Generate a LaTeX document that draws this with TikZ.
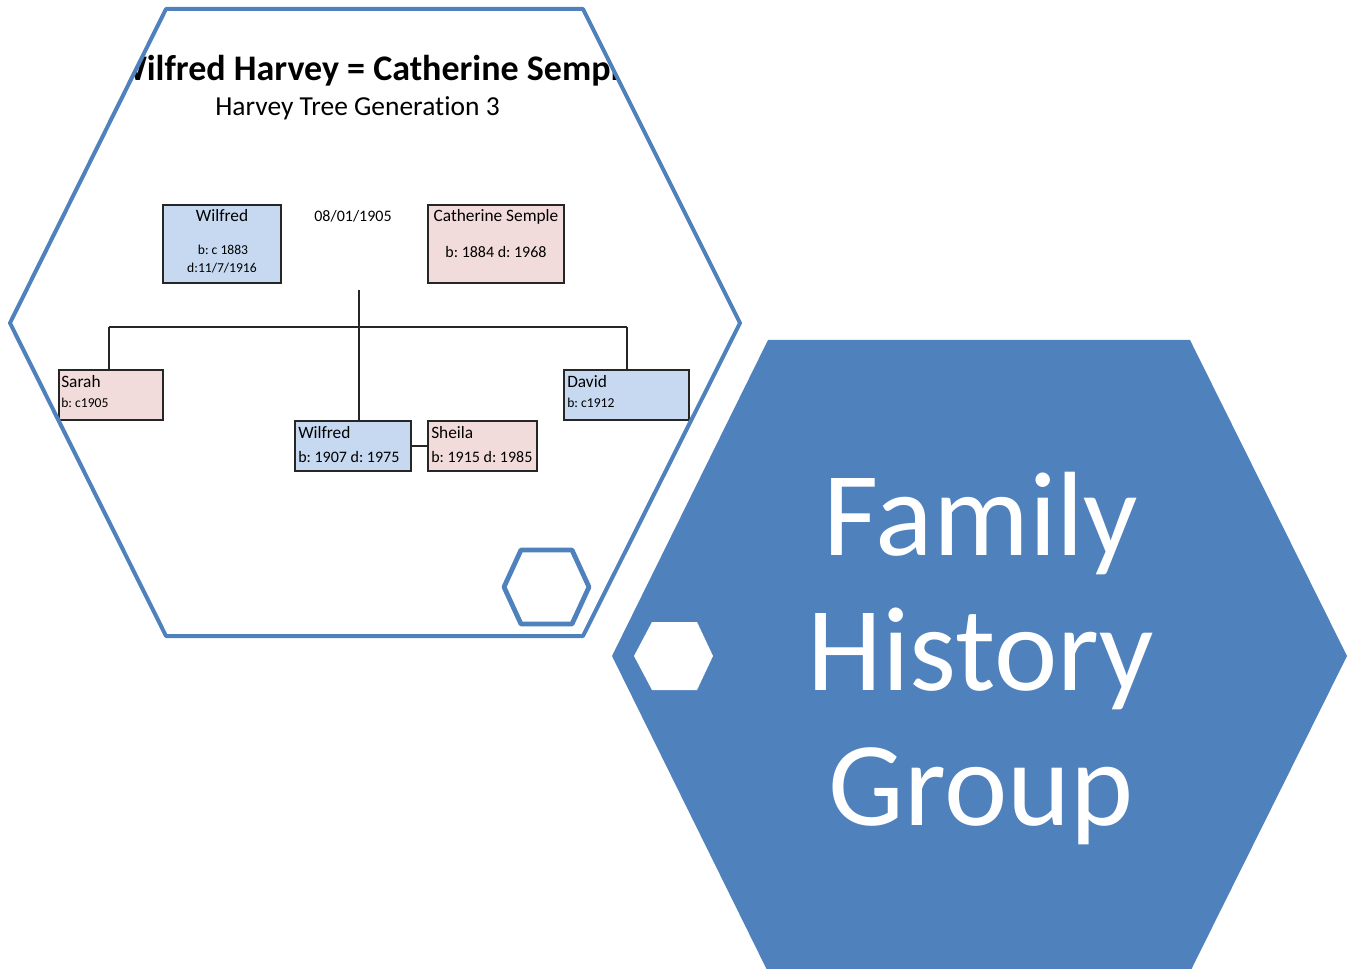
\documentclass[tikz,border=0pt]{standalone}
\usepackage{fontspec}
\setmainfont{Carlito}[Ligatures=NoCommon]
\frenchspacing
\usetikzlibrary{fit}
\definecolor{hexblue}{HTML}{4F81BD}
\definecolor{boxblue}{HTML}{C6D9F1}
\definecolor{boxpink}{HTML}{F2DCDB}
\begin{document}
\begin{tikzpicture}[x=0.75pt,y=-0.75pt,
  hexline/.style={draw=hexblue,line width=3pt,line join=round},
  bluebox/.style={draw=black!85,line width=0.8pt,fill=boxblue,inner sep=0pt},
  pinkbox/.style={draw=black!85,line width=0.8pt,fill=boxpink,inner sep=0pt},
  conn/.style={draw=black!85,line width=0.8pt},
  lbl/.style={inner sep=0pt,anchor=base,text=black},
  lblw/.style={inner sep=0pt,anchor=base west,text=black},
  nm/.style={font=\fontsize{13}{15}\selectfont},
  dt/.style={font=\fontsize{12}{14}\selectfont},
  sm/.style={font=\fontsize{10.2}{12}\selectfont},
  big/.style={inner sep=0pt,anchor=base,text=white,font=\fontsize{90}{100}\selectfont}]
\useasboundingbox (0,0) rectangle (1349,969);
\fill[white] (0,0) rectangle (1349,969);

% tree content clipped to hexagon
\begin{scope}
\clip (166,9) -- (583,9) -- (740,323) -- (583,636) -- (166,636) -- (10,323) -- cycle;
\node[inner sep=0pt,anchor=base west,font=\bfseries\fontsize{27}{32}\selectfont] (title) at (114,81) {Wilfred Harvey = Catherine Semple};
\node[inner sep=0pt,anchor=base west,font=\fontsize{20.6}{24}\selectfont] (sub) at (215,116) {Harvey Tree Generation 3};

\node[bluebox,fit={(163,205) (281,283)}] (w1) {};
\node[pinkbox,fit={(428,205) (564,283)}] (c1) {};
\node[pinkbox,fit={(59,370) (163,420)}] (sa) {};
\node[bluebox,fit={(564,370) (689,420)}] (da) {};
\node[bluebox,fit={(295,421) (411,471)}] (w2) {};
\node[pinkbox,fit={(428,421) (537,471)}] (sh) {};

\node[lbl,nm] (w1n) at (222,222) {Wilfred};
\node[lbl,sm] (w1b) at (223,255) {b: c 1883};
\node[lbl,sm] (w1d) at (222,273) {d:11/7/1916};
\node[lbl,dt] (md) at (353,222) {08/01/1905};
\node[lbl,nm] (c1n) at (496,222) {Catherine Semple};
\node[lbl,dt] (c1b) at (496,258) {b: 1884 d: 1968};
\node[lblw,nm] (san) at (61,388) {Sarah};
\node[lblw,sm] (sab) at (61,408) {b: c1905};
\node[lblw,nm] (dan) at (567,388) {David};
\node[lblw,sm] (dab) at (567,408) {b: c1912};
\node[lblw,nm] (w2n) at (298,439) {Wilfred};
\node[lblw,dt] (w2b) at (298,463) {b: 1907 d: 1975};
\node[lblw,nm] (shn) at (431,439) {Sheila};
\node[lblw,dt] (shb) at (431,463) {b: 1915 d: 1985};

\coordinate (fam) at (359,290);
\coordinate (hl) at (109,327);
\coordinate (hr) at (627,327);
\draw[conn] (fam) -- (fam |- w2.north);
\draw[conn] (hl) -- (hr);
\draw[conn] (hl) -- (hl |- sa.north);
\draw[conn] (hr) -- (hr |- da.north);
\draw[conn] (w2.east) -- (sh.west);
\end{scope}

% hexagon outlines
\draw[hexline] (166,9) -- (583,9) -- (740,323) -- (583,636) -- (166,636) -- (10,323) -- cycle;
\draw[hexblue,line width=3.6pt,line join=round] (521,550) -- (572,550) -- (589,587) -- (572,624) -- (521,624) -- (504,587) -- cycle;

% filled hexagon
\fill[hexblue] (768,340) -- (1190,340) -- (1347,656) -- (1190,972) -- (768,972) -- (612,656) -- cycle;
\fill[white] (652,622) -- (697,622) -- (713,656) -- (697,690) -- (652,690) -- (634,656) -- cycle;
\node[big] (fam1) at (981,555) {Family};
\node[big] (fam2) at (981,690) {History};
\node[big] (fam3) at (981,825) {Group};
\end{tikzpicture}
\end{document}
